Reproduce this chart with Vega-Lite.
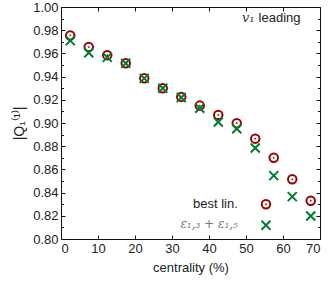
{
  "$schema": "https://vega.github.io/schema/vega-lite/v6.json",
  "width": 259,
  "height": 232,
  "autosize": {"type": "none"},
  "padding": {"left": 61, "top": 7, "right": 12, "bottom": 45},
  "background": "white",
  "config": {
    "view": {"stroke": null},
    "font": "Liberation Sans",
    "axis": {
      "domainColor": "#111",
      "tickColor": "#111",
      "labelColor": "#222",
      "titleColor": "#222",
      "labelFont": "Liberation Sans",
      "titleFont": "Liberation Sans",
      "labelFontSize": 13,
      "titleFontSize": 13,
      "titleFontWeight": "normal",
      "grid": false,
      "labelOverlap": false
    }
  },
  "datasets": {
    "circles": [
      {"c": 2.5, "q": 0.9755},
      {"c": 7.5, "q": 0.9655},
      {"c": 12.5, "q": 0.9585},
      {"c": 17.5, "q": 0.9515},
      {"c": 22.5, "q": 0.9385},
      {"c": 27.5, "q": 0.9300},
      {"c": 32.5, "q": 0.9225},
      {"c": 37.5, "q": 0.9150},
      {"c": 42.5, "q": 0.9070},
      {"c": 47.5, "q": 0.8998},
      {"c": 52.5, "q": 0.8865},
      {"c": 57.5, "q": 0.8700},
      {"c": 62.5, "q": 0.8515},
      {"c": 67.5, "q": 0.8330}
    ],
    "crosses": [
      {"c": 2.5, "q": 0.9710},
      {"c": 7.5, "q": 0.9606},
      {"c": 12.5, "q": 0.9566},
      {"c": 17.5, "q": 0.9515},
      {"c": 22.5, "q": 0.9385},
      {"c": 27.5, "q": 0.9300},
      {"c": 32.5, "q": 0.9220},
      {"c": 37.5, "q": 0.9127},
      {"c": 42.5, "q": 0.9009},
      {"c": 47.5, "q": 0.8950},
      {"c": 52.5, "q": 0.8785},
      {"c": 57.5, "q": 0.8546},
      {"c": 62.5, "q": 0.8365},
      {"c": 67.5, "q": 0.8198}
    ],
    "legend": [
      {"c": 55.4, "q": 0.8300, "kind": "circle"},
      {"c": 55.4, "q": 0.8118, "kind": "cross"}
    ],
    "labels": [
      {"c": 47.8, "q": 0.8265, "t": "best lin.", "k": "sans"},
      {"c": 47.8, "q": 0.8095, "t": "ε₁,₃ + ε₁,₅", "k": "eps"},
      {"c": 48.9, "q": 0.987, "t": "v₁", "k": "v"},
      {"c": 53.4, "q": 0.987, "t": "leading", "k": "lead"}
    ]
  },
  "resolve": {"axis": {"x": "independent", "y": "independent"}},
  "layer": [
    {
      "data": {"name": "circles"},
      "mark": {"type": "point", "shape": "circle", "filled": false, "stroke": "#990000", "strokeWidth": 2, "size": 72, "opacity": 1},
      "encoding": {
        "x": {"field": "c", "type": "quantitative",
          "scale": {"domain": [0, 70], "nice": false, "zero": false},
          "axis": {"orient": "bottom", "values": [0, 10, 20, 30, 40, 50, 60, 70], "tickSize": -4, "labelPadding": 7, "title": "centrality (%)", "titlePadding": 6}},
        "y": {"field": "q", "type": "quantitative",
          "scale": {"domain": [0.8, 1.0], "nice": false, "zero": false},
          "axis": {"orient": "left",
            "values": [0.80,0.81,0.82,0.83,0.84,0.85,0.86,0.87,0.88,0.89,0.90,0.91,0.92,0.93,0.94,0.95,0.96,0.97,0.98,0.99,1.00],
            "labelExpr": "round(datum.value*100)%2==0 ? format(datum.value, '.2f') : ''",
            "tickSize": {"condition": {"test": "round(datum.value*100)%2==0", "value": -4}, "value": -2.5},
            "labelPadding": 7,
            "title": "|Q₁⁽¹⁾|", "titlePadding": 6, "titleFontSize": 14}}
      }
    },
    {
      "data": {"name": "circles"},
      "mark": {"type": "point", "shape": "circle", "filled": true, "color": "#990000", "size": 3, "opacity": 1},
      "encoding": {
        "x": {"field": "c", "type": "quantitative",
          "axis": {"orient": "top", "values": [0, 10, 20, 30, 40, 50, 60, 70], "tickSize": -4, "labels": false, "title": null}},
        "y": {"field": "q", "type": "quantitative",
          "axis": {"orient": "right",
            "values": [0.80,0.81,0.82,0.83,0.84,0.85,0.86,0.87,0.88,0.89,0.90,0.91,0.92,0.93,0.94,0.95,0.96,0.97,0.98,0.99,1.00],
            "tickSize": {"condition": {"test": "round(datum.value*100)%2==0", "value": -4}, "value": -2.5},
            "labels": false, "title": null}}
      }
    },
    {
      "data": {"name": "crosses"},
      "mark": {"type": "point", "shape": "M-1,-1L1,1M1,-1L-1,1", "filled": false, "stroke": "#007a33", "strokeWidth": 2, "size": 81, "opacity": 1},
      "encoding": {
        "x": {"field": "c", "type": "quantitative", "axis": null},
        "y": {"field": "q", "type": "quantitative", "axis": null}
      }
    },
    {
      "data": {"name": "legend"},
      "transform": [{"filter": "datum.kind == 'circle'"}],
      "layer": [
        {"mark": {"type": "point", "shape": "circle", "filled": false, "stroke": "#990000", "strokeWidth": 2, "size": 72, "opacity": 1},
         "encoding": {"x": {"field": "c", "type": "quantitative", "axis": null}, "y": {"field": "q", "type": "quantitative", "axis": null}}},
        {"mark": {"type": "point", "shape": "circle", "filled": true, "color": "#990000", "size": 3, "opacity": 1},
         "encoding": {"x": {"field": "c", "type": "quantitative", "axis": null}, "y": {"field": "q", "type": "quantitative", "axis": null}}}
      ]
    },
    {
      "data": {"name": "legend"},
      "transform": [{"filter": "datum.kind == 'cross'"}],
      "mark": {"type": "point", "shape": "M-1,-1L1,1M1,-1L-1,1", "filled": false, "stroke": "#007a33", "strokeWidth": 2, "size": 81, "opacity": 1},
      "encoding": {"x": {"field": "c", "type": "quantitative", "axis": null}, "y": {"field": "q", "type": "quantitative", "axis": null}}
    },
    {
      "data": {"name": "labels"},
      "transform": [{"filter": "datum.k == 'sans'"}],
      "mark": {"type": "text", "align": "right", "baseline": "alphabetic", "fontSize": 13, "font": "Liberation Sans", "color": "#222"},
      "encoding": {
        "x": {"field": "c", "type": "quantitative", "axis": null},
        "y": {"field": "q", "type": "quantitative", "axis": null},
        "text": {"field": "t"}
      }
    },
    {
      "data": {"name": "labels"},
      "transform": [{"filter": "datum.k == 'eps'"}],
      "mark": {"type": "text", "align": "right", "baseline": "alphabetic", "fontSize": 12, "font": "DejaVu Serif", "fontStyle": "italic", "color": "#777"},
      "encoding": {
        "x": {"field": "c", "type": "quantitative", "axis": null},
        "y": {"field": "q", "type": "quantitative", "axis": null},
        "text": {"field": "t"}
      }
    },
    {
      "data": {"name": "labels"},
      "transform": [{"filter": "datum.k == 'v'"}],
      "mark": {"type": "text", "align": "left", "baseline": "alphabetic", "fontSize": 13, "font": "DejaVu Serif", "fontStyle": "italic", "color": "#333"},
      "encoding": {
        "x": {"field": "c", "type": "quantitative", "axis": null},
        "y": {"field": "q", "type": "quantitative", "axis": null},
        "text": {"field": "t"}
      }
    },
    {
      "data": {"name": "labels"},
      "transform": [{"filter": "datum.k == 'lead'"}],
      "mark": {"type": "text", "align": "left", "baseline": "alphabetic", "fontSize": 13, "font": "Liberation Sans", "color": "#222"},
      "encoding": {
        "x": {"field": "c", "type": "quantitative", "axis": null},
        "y": {"field": "q", "type": "quantitative", "axis": null},
        "text": {"field": "t"}
      }
    }
  ]
}
